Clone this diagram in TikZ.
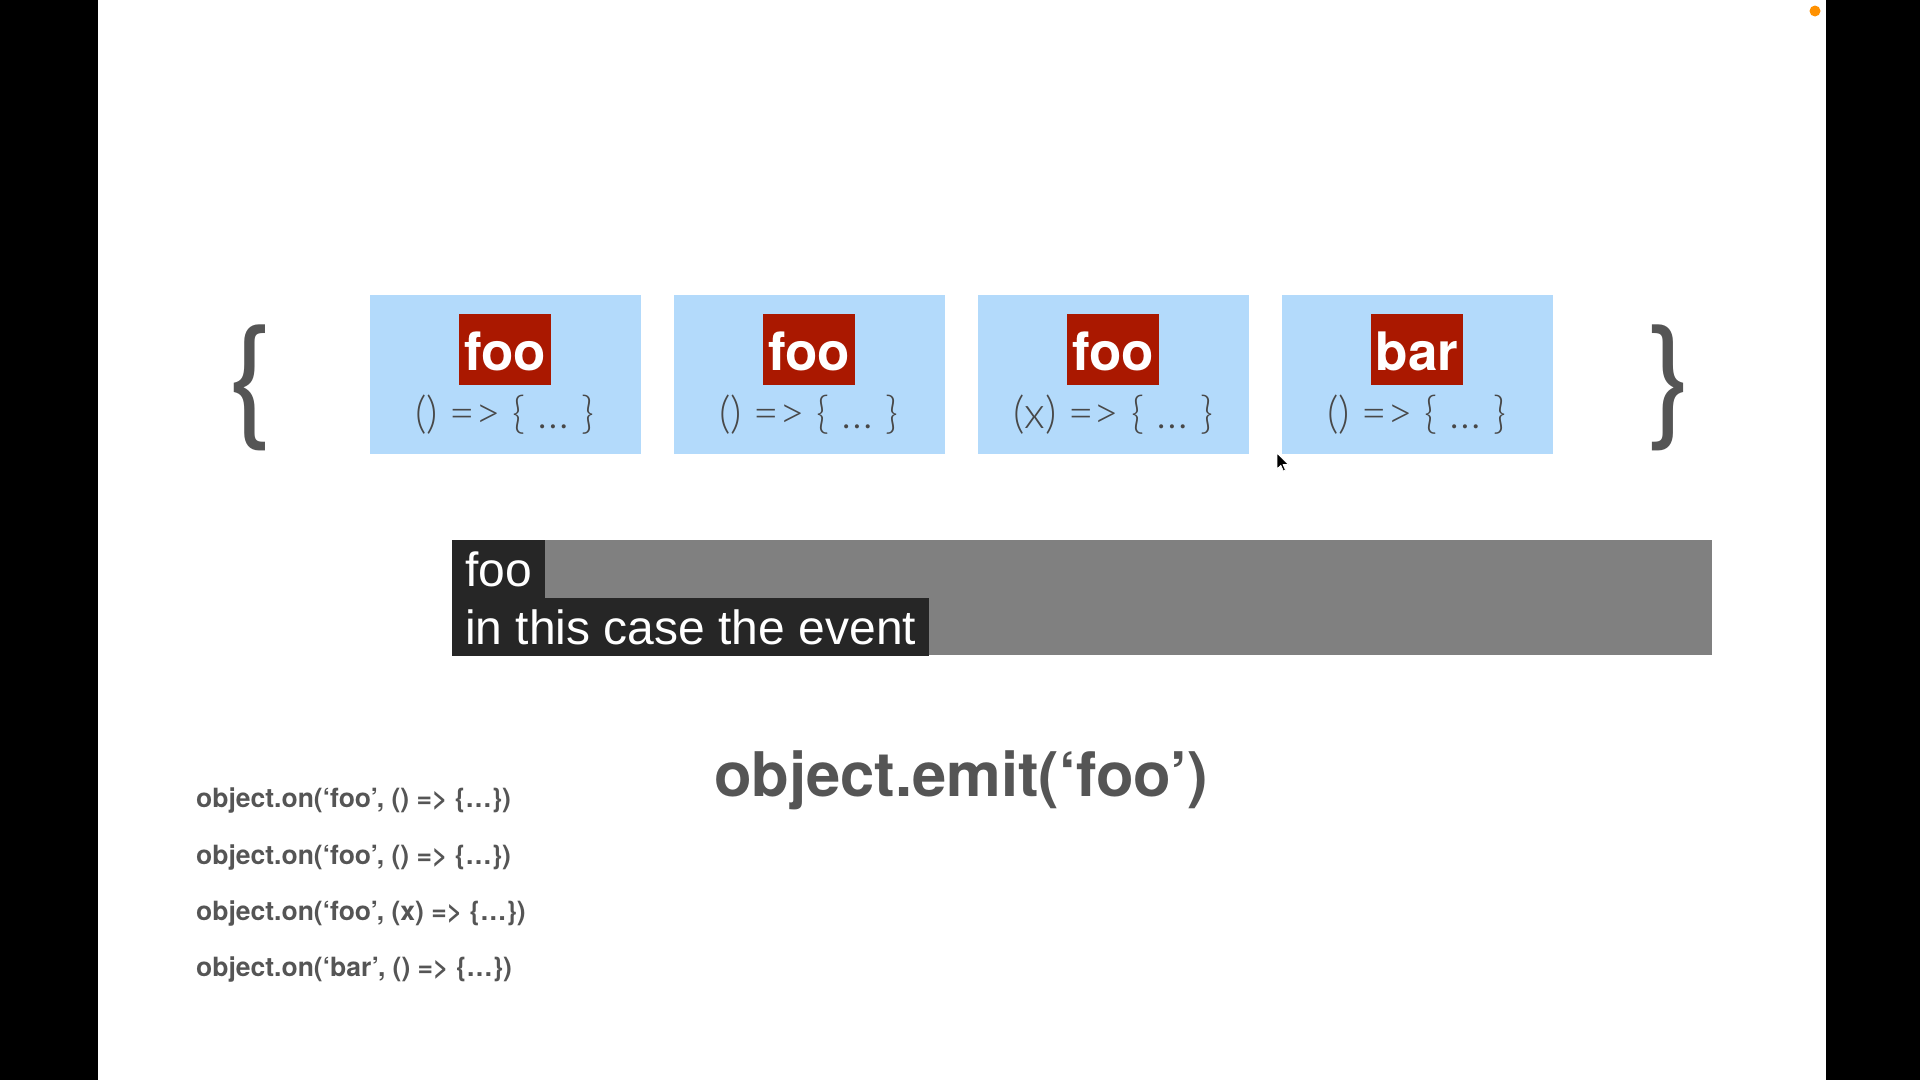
\documentclass[tikz,border=0pt]{standalone}
\usepackage{fontspec}
\setmainfont{TeX Gyre Heros}
\newfontfamily\capfont{Liberation Sans}
\newfontfamily\thinfont{Lato Light}

\definecolor{boxblue}{RGB}{179,218,251}
\definecolor{labelred}{RGB}{170,24,0}
\definecolor{inkgray}{RGB}{85,85,85}
\definecolor{thingray}{RGB}{72,72,72}
\definecolor{capgray}{RGB}{128,128,128}
\definecolor{capdark}{RGB}{38,38,38}
\definecolor{dotorange}{RGB}{255,145,0}

\tikzset{
  slot/.style={fill=boxblue, minimum width=271pt, minimum height=159pt, inner sep=0pt},
  tag/.style={fill=labelred, text=white, minimum width=92pt, minimum height=71pt, inner sep=0pt,
    text height=42pt, text depth=0pt, font=\bfseries\fontsize{53}{60}\selectfont},
  handler/.style={text=thingray, inner sep=0pt, font=\thinfont\fontsize{44}{52}\selectfont},
  curly/.style={text=inkgray, inner sep=0pt, font=\fontsize{134}{150}\selectfont},
  capbar/.style={fill=capgray, minimum width=1260pt, minimum height=115pt, inner sep=0pt},
  capline/.style={fill=capdark, text=white, anchor=north west, inner xsep=13pt, inner ysep=0pt,
    text height=46pt, text depth=12pt, font=\capfont\fontsize{48}{57}\selectfont},
  codeline/.style={text=inkgray, anchor=west, inner sep=0pt, font=\bfseries\fontsize{26.5}{31}\selectfont},
  emitcall/.style={text=inkgray, inner sep=0pt, font=\bfseries\fontsize{61.5}{72}\selectfont}
}

\begin{document}
\begin{tikzpicture}[x=1pt,y=-1pt]
\useasboundingbox (0,0) rectangle (1920,1080);
% screen edges and slide
\fill[black] (0,0) rectangle (1920,1080);
\fill[white] (98,0) rectangle (1826,1080);
\node[circle, fill=dotorange, minimum size=11pt, inner sep=0pt] (dot) at (1815,11) {};

% outer braces of the listener map
\node[curly] (lbrace) at (251,388) {\{};
\node[curly] (rbrace) at (1671,388) {\}};

% listener slots
\node[slot] (s1) at (505,374.5) {};
\node[slot] (s2) at (809,374.5) {};
\node[slot] (s3) at (1113,374.5) {};
\node[slot] (s4) at (1417,374.5) {};

\node[tag] (t1) at (s1.center |- 0,349.5) {foo};
\node[tag] (t2) at (s2.center |- 0,349.5) {foo};
\node[tag] (t3) at (s3.center |- 0,349.5) {foo};
\node[tag] (t4) at (s4.center |- 0,349.5) {bar};

\node[handler] (h1) at (s1.center |- 0,415) {() => \{ … \}};
\node[handler] (h2) at (s2.center |- 0,415) {() => \{ … \}};
\node[handler] (h3) at (s3.center |- 0,415) {(x) => \{ … \}};
\node[handler] (h4) at (s4.center |- 0,415) {() => \{ … \}};

% subtitle band
\node[capbar] (cap) at (1082,597.5) {};
\node[capline] (c1) at (452,540) {foo};
\node[capline] (c2) at (452,598) {in this case the event};

% code
\node[emitcall] (emit) at (961,780) {object.emit(‘foo’)};
\node[codeline] (o1) at (196,800.5) {object.on(‘foo’, () => \{…\})};
\node[codeline] (o2) at (196,857.5) {object.on(‘foo’, () => \{…\})};
\node[codeline] (o3) at (196,913.5) {object.on(‘foo’, (x) => \{…\})};
\node[codeline] (o4) at (196,969.5) {object.on(‘bar’, () => \{…\})};

% mouse pointer
\begin{scope}[shift={(1277,453)}]
  \fill[black, draw=white, line width=0.8pt, line join=round]
    (0,0) -- (0,16) -- (3.8,12.3) -- (6.3,18) -- (8.5,17) -- (6,11.5) -- (11.3,11.5) -- cycle;
\end{scope}
\end{tikzpicture}
\end{document}
